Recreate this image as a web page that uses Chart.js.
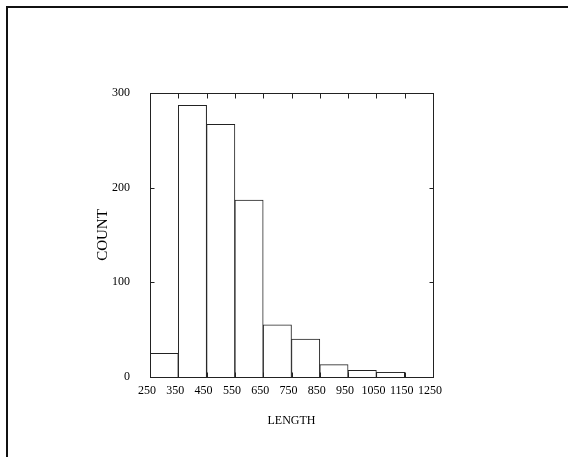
<!DOCTYPE html>
<html>
<head>
<meta charset="utf-8">
<script src="https://cdn.jsdelivr.net/npm/chart.js@4/dist/chart.umd.min.js"></script>
<style>
  body { margin: 0; background: #fff; }
  #marco { position: absolute; left: 6px; top: 6px; width: 570px; height: 460px;
           border-top: 2px solid #111; border-left: 2px solid #111; pointer-events: none; }
</style>
</head>
<body>
<canvas id="histograma" width="568" height="457"></canvas>
<div id="marco"></div>
<script>
// datos
const inicios = [250, 350, 450, 550, 650, 750, 850, 950, 1050, 1150]
const conteos = [25, 287, 267, 187, 55, 40, 13, 7, 5, 0]
const anchoClase = 100
const ticksX = [250, 350, 450, 550, 650, 750, 850, 950, 1050, 1150, 1250]
const ticksY = [0, 100, 200, 300]

const fuente = 'Liberation Serif, Times New Roman, serif'
const tinta = '#222'

// marco del area y marcas hacia dentro
const marcoPlugin = {
    id: 'marco',
    afterDatasetsDraw(chart) {
        const { ctx, chartArea: a, scales: { x, y } } = chart
        ctx.save()
        ctx.strokeStyle = tinta
        ctx.lineWidth = 1
        const linea = (x1, y1, x2, y2) => {
            ctx.beginPath(); ctx.moveTo(x1, y1); ctx.lineTo(x2, y2); ctx.stroke()
        }
        const l = Math.round(a.left) + 0.5, r = Math.round(a.right) + 0.5
        const t = Math.round(a.top) + 0.5, b = Math.round(a.bottom) + 0.5
        ctx.strokeRect(l, t, r - l, b - t)
        x.ticks.forEach(tk => {
            const px = Math.round(x.getPixelForValue(tk.value)) + 0.5
            linea(px, t, px, t + 5)
            linea(px, b, px, b - 5)
        })
        y.ticks.forEach(tk => {
            const py = Math.round(y.getPixelForValue(tk.value)) + 0.5
            linea(l, py, l + 4, py)
            linea(r, py, r - 4, py)
        })
        ctx.restore()
    }
}

new Chart(document.getElementById('histograma'), {
    type: 'bar',
    data: {
        datasets: [{
            data: inicios.map((v, i) => ({ x: v + anchoClase / 2, y: conteos[i] })),
            backgroundColor: '#fff',
            borderColor: tinta,
            borderWidth: 1,
            barPercentage: 1,
            categoryPercentage: 1
        }]
    },
    options: {
        responsive: false,
        animation: false,
        layout: { padding: { left: 0, top: 93, right: 135, bottom: 0 } },
        plugins: { legend: { display: false }, tooltip: { enabled: false } },
        scales: {
            x: {
                type: 'linear',
                min: 250,
                max: 1250,
                offset: false,
                afterBuildTicks: s => { s.ticks = ticksX.map(v => ({ value: v })) },
                afterFit: s => { s.height = 80 },
                grid: { display: false, drawTicks: false },
                border: { display: true, color: tinta },
                ticks: { font: { family: fuente, size: 12 }, color: '#000', padding: 7, labelOffset: -3,
                         maxRotation: 0, autoSkip: false, callback: v => String(v) },
                title: { display: true, text: 'LENGTH', font: { family: fuente, size: 12 }, color: '#000', padding: { top: 0, bottom: 29 } }
            },
            y: {
                min: 0,
                max: 300,
                afterBuildTicks: s => { s.ticks = ticksY.map(v => ({ value: v })) },
                afterFit: s => { s.width = 150 },
                grid: { display: false, drawTicks: false },
                border: { display: true, color: tinta },
                ticks: { font: { family: fuente, size: 12 }, color: '#000', padding: 20, callback: v => String(v) },
                title: { display: true, text: 'COUNT', font: { family: fuente, size: 15 }, color: '#000', padding: { top: 94, bottom: 0 } }
            }
        }
    },
    plugins: [marcoPlugin]
})
</script>
</body>
</html>
